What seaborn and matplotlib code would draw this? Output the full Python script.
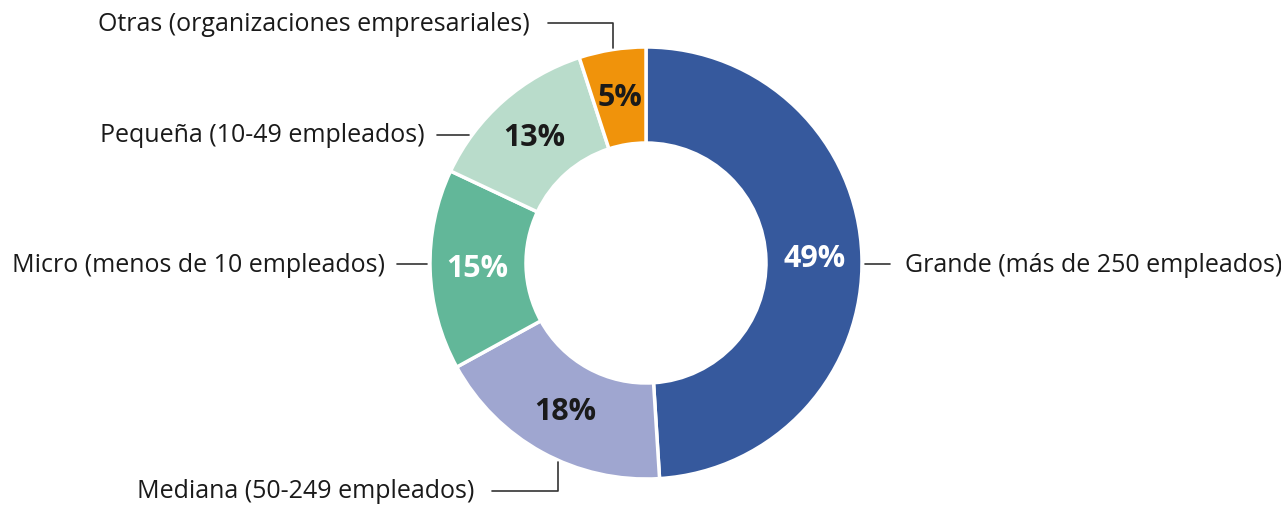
import matplotlib
matplotlib.use("Agg")
import matplotlib.pyplot as plt
from matplotlib import font_manager
import numpy as np
import seaborn as sns

# data
categories = ["Grande (más de 250 empleados)", "Mediana (50-249 empleados)",
              "Micro (menos de 10 empleados)", "Pequeña (10-49 empleados)",
              "Otras (organizaciones empresariales)"]
shares = [49, 18, 15, 13, 5]
slice_colors = ["#36599d", "#9fa6d0", "#62b799", "#b9dccb", "#f0930b"]
pct_colors = ["white", "#1a1a1a", "white", "#1a1a1a", "#1a1a1a"]

W, H = 1281, 506

sns.set_theme(style="white")
installed = {f.name for f in font_manager.fontManager.ttflist}
family = next((f for f in ["Open Sans", "Noto Sans"] if f in installed), "DejaVu Sans")
plt.rcParams["font.family"] = [family, "DejaVu Sans"]

fig = plt.figure(figsize=(W / 100, H / 100), dpi=100)
ax = fig.add_axes([0, 0, 1, 1])

cx, cy, r = 646, H - 264, 216
wedges, _, pcts = ax.pie(shares, colors=slice_colors, startangle=90, counterclock=False,
                         radius=r, center=(cx, cy), autopct="%.0f%%", pctdistance=0.78,
                         wedgeprops=dict(width=96, edgecolor="white", linewidth=2.5))
for t, c in zip(pcts, pct_colors):
    t.set_color(c)
    t.set_fontsize(22)
    t.set_fontweight("bold")

# label layout: (text x, text y from top, side, elbow x or None)
layout = [(905, 265, "left", None),
          (474, 492, "right", 558),
          (385, 265, "right", None),
          (425, 136, "right", None),
          (530, 24, "right", 613)]

for name, (tx, ty, side, ex) in zip(categories, layout):
    y = H - ty
    if ex is None:
        dx = np.sqrt(r ** 2 - (y - cy) ** 2)
        edge = cx + dx + 3 if side == "left" else cx - dx - 3
        x0 = tx - 15 if side == "left" else tx + 12
        ax.plot([x0, edge], [y, y], color="#333333", lw=1.2)
    else:
        dy = np.sqrt(r ** 2 - (ex - cx) ** 2)
        edge_y = cy + dy + 2 if y > cy else cy - dy - 2
        ax.plot([tx + 18, ex, ex], [y, y, edge_y], color="#333333", lw=1.2)
    ax.text(tx, y, name, ha=side, va="center", fontsize=18, color="#1a1a1a")

ax.set_xlim(0, W)
ax.set_ylim(0, H)
ax.set_aspect("equal")
ax.axis("off")
fig.savefig("out.png", dpi=100, facecolor="white")
